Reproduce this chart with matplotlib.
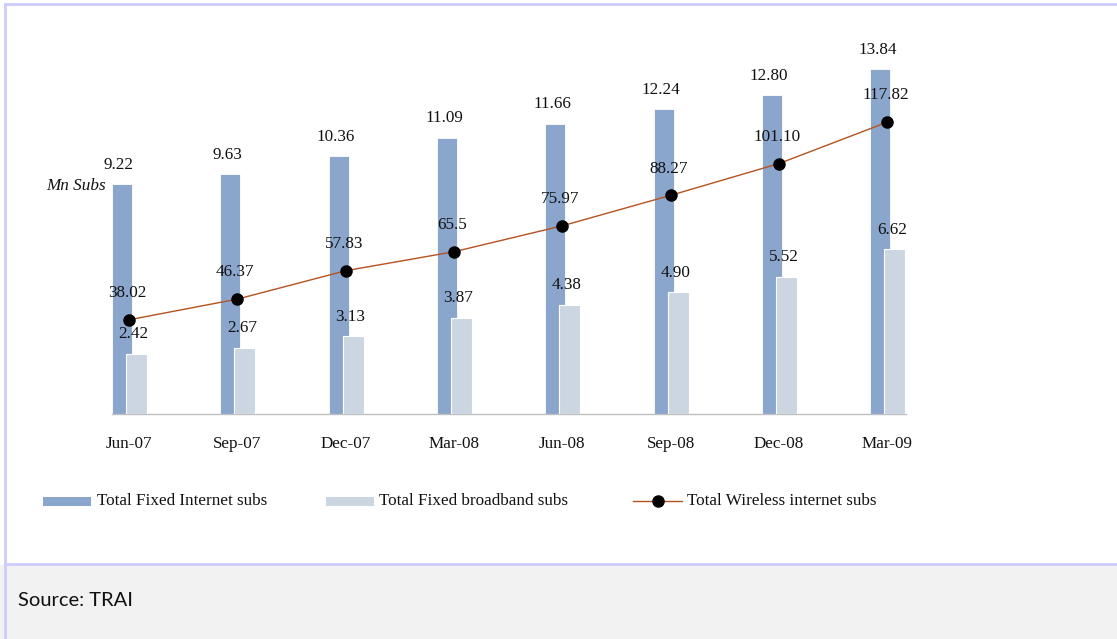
import matplotlib
matplotlib.use("Agg")
import matplotlib.pyplot as plt
from matplotlib.patches import Rectangle
from matplotlib.lines import Line2D
import numpy as np

categories = ["Jun-07", "Sep-07", "Dec-07", "Mar-08", "Jun-08", "Sep-08", "Dec-08", "Mar-09"]
fixed_internet = [9.22, 9.63, 10.36, 11.09, 11.66, 12.24, 12.80, 13.84]
fixed_broadband = [2.42, 2.67, 3.13, 3.87, 4.38, 4.90, 5.52, 6.62]
wireless = [38.02, 46.37, 57.83, 65.5, 75.97, 88.27, 101.10, 117.82]
wireless_labels = ["38.02", "46.37", "57.83", "65.5", "75.97", "88.27", "101.10", "117.82"]

W, H = 1117, 639
DPI = 100
fig = plt.figure(figsize=(W / DPI, H / DPI), dpi=DPI)
fig.patch.set_facecolor("white")

SERIF = ["Liberation Serif", "DejaVu Serif"]
FS = 12.3
BLUE = "#8BA6CD"
LIGHT = "#CCD6E3"
LINEC = "#B5521F"
BORDER = "#CCCCFF"
TXT = "#111111"


def px(x, y):
    return x / W, 1 - y / H


# frame / source area
fig.add_artist(Rectangle((0, 0), 1, 1 - 565 / H, transform=fig.transFigure,
                         facecolor="#F2F2F2", edgecolor="none", zorder=0))
fig.add_artist(Line2D([5 / W, 5 / W], [0, 1 - 4 / H], transform=fig.transFigure,
                      color=BORDER, lw=2, zorder=1))
fig.add_artist(Line2D([5 / W, 1], [1 - 4 / H, 1 - 4 / H], transform=fig.transFigure,
                      color=BORDER, lw=2, zorder=1))
fig.add_artist(Line2D([5 / W, 1], [1 - 564 / H, 1 - 564 / H], transform=fig.transFigure,
                      color=BORDER, lw=2, zorder=1))
fig.text(*px(18, 601), "Source: TRAI", fontsize=14.5, family=["Lato", "DejaVu Sans"],
         va="center", ha="left", color=TXT)

# main axes
x0, x1 = 112, 906
base = 414
ppu = 24.9
ymax = 16.0
top = base - ymax * ppu
ax = fig.add_axes([x0 / W, 1 - base / H, (x1 - x0) / W, (base - top) / H])
ax.set_facecolor("none")
n = len(categories)
x = np.arange(n)
spacing = (887 - 130) / 7.0
ax.set_xlim(-17 / spacing, (n - 1) + 18.5 / spacing)
ax.set_ylim(0, ymax)

bw_blue = 20 / spacing
bw_light = 21 / spacing
off_blue = -7 / spacing
off_light = 7.5 / spacing

ax.bar(x + off_blue, fixed_internet, width=bw_blue, color=BLUE, edgecolor="white",
       linewidth=0.6, zorder=2)
ax.bar(x + off_light, fixed_broadband, width=bw_light, color=LIGHT, edgecolor="white",
       linewidth=0.8, zorder=3)

for xi, v in zip(x, fixed_internet):
    ax.annotate(f"{v:.2f}", (xi + off_blue, v), xytext=(-2.2, 14.0), textcoords="offset points",
                ha="center", va="center", fontsize=FS, family=SERIF, color=TXT)
for xi, v in zip(x, fixed_broadband):
    ax.annotate(f"{v:.2f}", (xi + off_light, v), xytext=(-2.2, 14.0), textcoords="offset points",
                ha="center", va="center", fontsize=FS, family=SERIF, color=TXT)

ax2 = ax.twinx()
ax2.set_ylim(0, ymax * 10.05)
ax2.plot(x, wireless, color=LINEC, lw=1.0, marker="o", markersize=8,
         markerfacecolor="black", markeredgecolor="black", zorder=4)
for xi, v, lab in zip(x, wireless, wireless_labels):
    ax2.annotate(lab, (xi, v), xytext=(-1.5, 19.2), textcoords="offset points",
                 ha="center", va="center", fontsize=FS, family=SERIF, color=TXT)

for a in (ax, ax2):
    for s in ("top", "right", "left"):
        a.spines[s].set_visible(False)
    a.set_yticks([])
ax2.spines["bottom"].set_visible(False)
ax.spines["bottom"].set_color("#BFBFBF")
ax.spines["bottom"].set_linewidth(1.0)
ax.set_xticks(x)
ax.set_xticklabels(categories, fontsize=FS, family=SERIF, color=TXT)
ax.tick_params(axis="x", length=0, pad=15.5)

fig.text(*px(106, 186), "Mn Subs", fontsize=FS, family=SERIF, style="italic",
         ha="right", va="center", color=TXT)

# legend
ly = 501
fig.add_artist(Rectangle(px(43, ly + 4.5), 48 / W, 9 / H, transform=fig.transFigure,
                         facecolor=BLUE, edgecolor="none"))
fig.text(*px(97, ly), "Total Fixed Internet subs", fontsize=FS, family=SERIF,
         ha="left", va="center", color=TXT)
fig.add_artist(Rectangle(px(326, ly + 4.5), 48 / W, 9 / H, transform=fig.transFigure,
                         facecolor=LIGHT, edgecolor="none"))
fig.text(*px(379, ly), "Total Fixed broadband subs", fontsize=FS, family=SERIF,
         ha="left", va="center", color=TXT)
fig.add_artist(Line2D([633 / W, 682 / W], [1 - ly / H] * 2, transform=fig.transFigure,
                      color=LINEC, lw=1.0))
fig.add_artist(Line2D([658 / W], [1 - ly / H], transform=fig.transFigure, marker="o",
                      markersize=8, color="black", lw=0))
fig.text(*px(687, ly), "Total Wireless internet subs", fontsize=FS, family=SERIF,
         ha="left", va="center", color=TXT)

fig.savefig("out.png", dpi=DPI, facecolor=fig.get_facecolor())
